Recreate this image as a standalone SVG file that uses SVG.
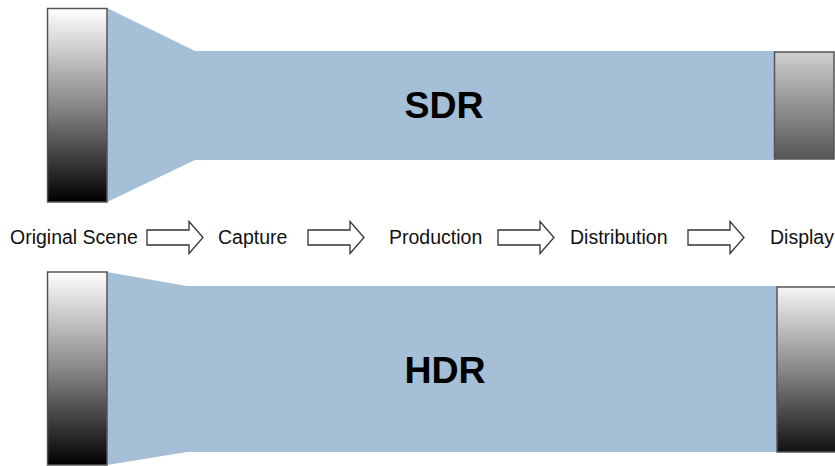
<svg xmlns="http://www.w3.org/2000/svg" width="835" height="466" viewBox="0 0 835 466">
<defs>
<linearGradient id="gLeft" x1="0" y1="0" x2="0" y2="1">
<stop offset="0" stop-color="#ffffff"/>
<stop offset="0.5" stop-color="#888888"/>
<stop offset="1" stop-color="#000000"/>
</linearGradient>
<linearGradient id="gSdrDisp" x1="0" y1="0" x2="0" y2="1">
<stop offset="0" stop-color="#cfcfcf"/>
<stop offset="1" stop-color="#555555"/>
</linearGradient>
<linearGradient id="gHdrDisp" x1="0" y1="0" x2="0" y2="1">
<stop offset="0" stop-color="#f5f5f5"/>
<stop offset="0.5" stop-color="#888888"/>
<stop offset="1" stop-color="#111111"/>
</linearGradient>
<path id="arrow" d="M0,-7.5 H42 V-16 L56,0 L42,16 V7.5 H0 Z"/>
</defs>
<style>
.band{fill:#a4bfd6;stroke:none}
.box{stroke:#555555;stroke-width:1.5}
.lbl{font-family:"Liberation Sans",Arial,sans-serif;font-size:19.5px;fill:#111111}
.big{font-family:"Liberation Sans",Arial,sans-serif;font-size:37.5px;font-weight:bold;fill:#000000;text-anchor:middle}
.arr{fill:#ffffff;stroke:#333333;stroke-width:1.3}
</style>
<g id="sdr">
<polygon class="band" points="107,8 195,51 776,51 776,160 195,160 107,202"/>
<text class="big" x="444" y="118">SDR</text>
</g>
<g id="hdr">
<polygon class="band" points="107,272 187,286 778,286 778,452 187,452 107,465"/>
<text class="big" x="445" y="383">HDR</text>
</g>
<g id="sdr-scene"><rect class="box" x="47.5" y="8.5" width="59.5" height="193.5" fill="url(#gLeft)"/></g>
<g id="sdr-display"><rect class="box" x="774.5" y="52" width="59.5" height="107" fill="url(#gSdrDisp)" stroke="#333333"/></g>
<g id="hdr-scene"><rect class="box" x="47.5" y="272" width="59.5" height="193" fill="url(#gLeft)"/></g>
<g id="hdr-display"><rect class="box" x="777" y="287" width="60" height="165" fill="url(#gHdrDisp)" stroke="#333333"/></g>
<g id="labels">
<text class="lbl" x="10" y="244">Original Scene</text>
<text class="lbl" x="218" y="244">Capture</text>
<text class="lbl" x="389" y="244">Production</text>
<text class="lbl" x="570" y="244">Distribution</text>
<text class="lbl" x="770" y="244">Display</text>
</g>
<g id="connectors">
<use href="#arrow" class="arr" transform="translate(147,237.5)"/>
<use href="#arrow" class="arr" transform="translate(308,237.5)"/>
<use href="#arrow" class="arr" transform="translate(498,237.5)"/>
<use href="#arrow" class="arr" transform="translate(688,237.5)"/>
</g>
</svg>
